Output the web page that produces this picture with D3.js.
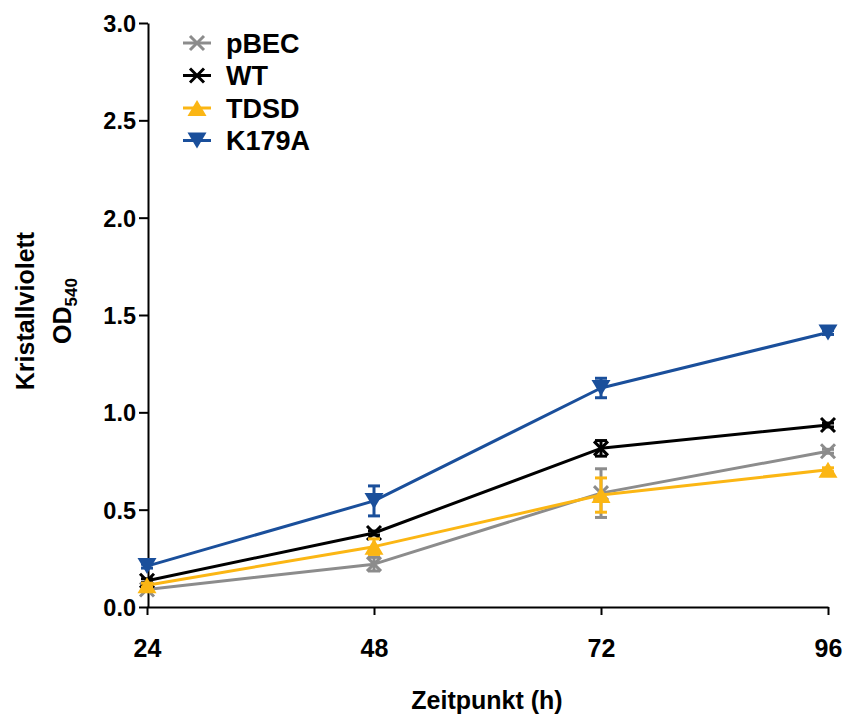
<!DOCTYPE html>
<html>
<head>
<meta charset="utf-8">
<script src="https://cdn.jsdelivr.net/npm/d3@7"></script>
<style>
  html, body { margin: 0; padding: 0; background: #fff; }
  svg text { font-family: "Liberation Sans", Arial, Helvetica, sans-serif; font-weight: bold; fill: #000; }
</style>
</head>
<body>
<svg id="chart" width="845" height="716"></svg>
<script>
// ---- data ----
const timepoints = [24, 48, 72, 96];
const seriesNames = ["pBEC", "WT", "TDSD", "K179A"];
const pBEC  = [0.09, 0.22, 0.585, 0.80];
const pBECErr = [0.01, 0.035, 0.125, 0.01];
const WT    = [0.135, 0.38, 0.815, 0.935];
const WTErr = [0.01, 0.01, 0.04, 0.01];
const TDSD  = [0.112, 0.31, 0.575, 0.705];
const TDSDErr = [0.01, 0.04, 0.088, 0.01];
const K179A = [0.21, 0.545, 1.125, 1.41];
const K179AErr = [0.01, 0.077, 0.05, 0.01];
const yTicks = [0.0, 0.5, 1.0, 1.5, 2.0, 2.5, 3.0];
const xTicks = [24, 48, 72, 96];

const colors = { pBEC: "#8c8c8c", WT: "#000000", TDSD: "#fbb614", K179A: "#1a4f9b" };
const shapes = { pBEC: "x", WT: "x", TDSD: "up", K179A: "down" };
const values = { pBEC: pBEC, WT: WT, TDSD: TDSD, K179A: K179A };
const errs = { pBEC: pBECErr, WT: WTErr, TDSD: TDSDErr, K179A: K179AErr };

const svg = d3.select("#chart");
const x = d3.scaleLinear().domain([24, 96]).range([147, 828]);
const y = d3.scaleLinear().domain([0, 3]).range([607, 23]);

// axes
const yAxis = svg.append("g").attr("transform", "translate(148,0)")
  .call(d3.axisLeft(y).tickValues(yTicks).tickFormat(d3.format(".1f")).tickSize(9).tickPadding(3).tickSizeOuter(0));
yAxis.select(".domain").attr("stroke", "#000").attr("stroke-width", 2);
yAxis.selectAll(".tick line").attr("stroke", "#000").attr("stroke-width", 2);
yAxis.selectAll(".tick text").attr("font-size", 23.5).attr("dy", "0.36em")
  .style("font-family", "'Liberation Sans', Arial, sans-serif").style("font-weight", "bold").attr("fill", "#000");

const xAxis = svg.append("g").attr("transform", "translate(0,607)")
  .call(d3.axisBottom(x).tickValues(xTicks).tickFormat(d3.format("d")).tickSize(8).tickPadding(24).tickSizeOuter(0));
xAxis.select(".domain").attr("stroke", "#000").attr("stroke-width", 2);
xAxis.selectAll(".tick line").attr("stroke", "#000").attr("stroke-width", 2);
xAxis.selectAll(".tick text").attr("font-size", 25)
  .style("font-family", "'Liberation Sans', Arial, sans-serif").style("font-weight", "bold").attr("fill", "#000");

// axis titles
svg.append("text").attr("x", 487).attr("y", 709).attr("text-anchor", "middle")
  .attr("font-size", 25).text("Zeitpunkt (h)");
svg.append("text").attr("transform", "translate(34,311) rotate(-90)").attr("text-anchor", "middle")
  .attr("font-size", 25).text("Kristallviolett");
const od = svg.append("text").attr("transform", "translate(71,311) rotate(-90)").attr("text-anchor", "middle")
  .attr("font-size", 25);
od.append("tspan").text("OD");
od.append("tspan").attr("font-size", 17).attr("dy", 6).text("540");

function marker(g, shape, color, cx, cy) {
  if (shape === "x") {
    const s = 7;
    g.append("path").attr("d", `M${cx - s},${cy - s}L${cx + s},${cy + s}M${cx - s},${cy + s}L${cx + s},${cy - s}`)
      .attr("stroke", color).attr("stroke-width", 3).attr("fill", "none");
  } else {
    const w = 9.5, h = 8;
    const d = shape === "up"
      ? `M${cx},${cy - h}L${cx + w},${cy + h}L${cx - w},${cy + h}Z`
      : `M${cx},${cy + h}L${cx + w},${cy - h}L${cx - w},${cy - h}Z`;
    g.append("path").attr("d", d).attr("fill", color);
  }
}

const line = d3.line().x((d, i) => x(timepoints[i])).y(d => y(d));

seriesNames.forEach(name => {
  const g = svg.append("g");
  const c = colors[name];
  g.append("path").datum(values[name]).attr("d", line).attr("fill", "none")
    .attr("stroke", c).attr("stroke-width", 3).attr("stroke-linejoin", "round");
  values[name].forEach((v, i) => {
    const e = errs[name][i];
    const cx = x(timepoints[i]);
    const y1 = y(v + e), y2 = y(v - e);
    g.append("line").attr("x1", cx).attr("x2", cx).attr("y1", y1).attr("y2", y2).attr("stroke", c).attr("stroke-width", 3);
    [y1, y2].forEach(yy => g.append("line").attr("x1", cx - 6).attr("x2", cx + 6).attr("y1", yy).attr("y2", yy)
      .attr("stroke", c).attr("stroke-width", 3));
    marker(g, shapes[name], c, cx, y(v));
  });
});

// legend
seriesNames.forEach((name, i) => {
  const ly = 43 + i * 32.5;
  const g = svg.append("g");
  g.append("line").attr("x1", 183).attr("x2", 211).attr("y1", ly).attr("y2", ly)
    .attr("stroke", colors[name]).attr("stroke-width", 3);
  marker(g, shapes[name], colors[name], 197, ly);
  g.append("text").attr("x", 226).attr("y", ly).attr("dy", "0.36em").attr("font-size", 27).text(name);
});
</script>
</body>
</html>
